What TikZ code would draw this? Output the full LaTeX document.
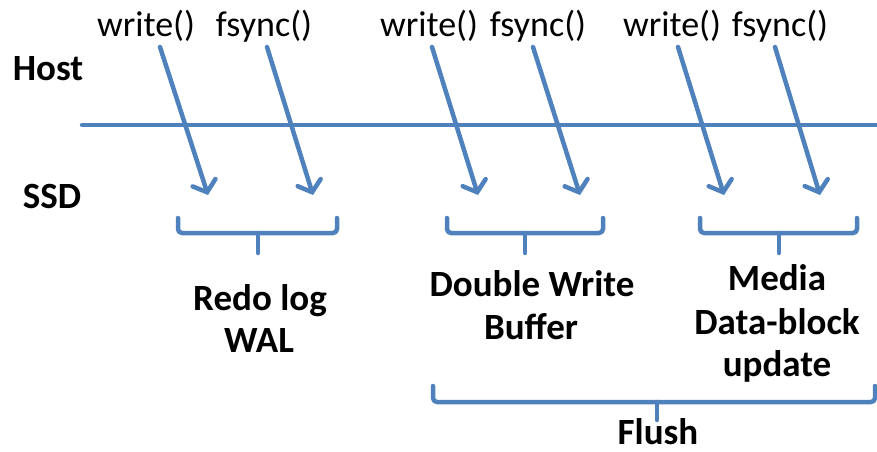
\documentclass[tikz,border=0pt]{standalone}
\usepackage{fontspec}
\setmainfont{Carlito}
\usetikzlibrary{arrows.meta}
\definecolor{accblue}{RGB}{79,129,189}
\tikzset{
  wire/.style={draw=accblue, line width=4.5pt, line cap=round, line join=round},
  callarrow/.style={wire, -{Straight Barb[length=10pt,width=24pt,line cap=round]}},
  brace/.style={wire, rounded corners=4pt},
  calltext/.style={anchor=base, inner sep=0pt, font=\fontsize{36}{42}\selectfont},
  boldtext/.style={anchor=base, inner sep=0pt, font=\fontsize{37}{44}\selectfont\bfseries},
}
\begin{document}
\begin{tikzpicture}[x=1pt,y=-1pt]
\useasboundingbox (0,0) rectangle (877,451);

% labels top
\node[calltext] (w1) at (146,36) {write()};
\node[calltext] (f1) at (264,36) {fsync()};
\node[calltext] (w2) at (429,36) {write()};
\node[calltext] (f2) at (538,36) {fsync()};
\node[calltext] (w3) at (672,36) {write()};
\node[calltext] (f3) at (780,36) {fsync()};

\node[boldtext] (host) at (48,80) {Host};
\node[boldtext] (ssd) at (52,208) {SSD};

% host/ssd boundary
\coordinate (hl) at (82,125);
\coordinate (hr) at (880,125);
\draw[wire] (hl) -- (hr);

% arrows
\coordinate (a1s) at (160,47); \coordinate (a1e) at (208,195);
\coordinate (a2s) at (267,47); \coordinate (a2e) at (313,195);
\coordinate (a3s) at (432,47); \coordinate (a3e) at (478,195);
\coordinate (a4s) at (533,47); \coordinate (a4e) at (580,195);
\coordinate (a5s) at (678,47); \coordinate (a5e) at (724,195);
\coordinate (a6s) at (775,47); \coordinate (a6e) at (820,195);
\draw[callarrow] (a1s) -- (a1e);
\draw[callarrow] (a2s) -- (a2e);
\draw[callarrow] (a3s) -- (a3e);
\draw[callarrow] (a4s) -- (a4e);
\draw[callarrow] (a5s) -- (a5e);
\draw[callarrow] (a6s) -- (a6e);

% brackets
\draw[brace] (178,218) -- (178,233) -- (337,233) -- (337,218);
\draw[wire] (258,233) -- (258,253);
\draw[brace] (447,218) -- (447,233) -- (603,233) -- (603,218);
\draw[wire] (525,233) -- (525,253);
\draw[brace] (700,218) -- (700,233) -- (857,233) -- (857,218);
\draw[wire] (779,233) -- (779,253);
\draw[brace] (433,386) -- (433,402) -- (875,402) -- (875,386);
\draw[wire] (657,402) -- (657,420);

% group labels
\node[boldtext] (redo) at (260,310) {Redo log};
\node[boldtext] (wal) at (259,352) {WAL};
\node[boldtext] (dw) at (532,296) {Double Write};
\node[boldtext] (buf) at (531,339) {Buffer};
\node[boldtext] (media) at (777,290) {Media};
\node[boldtext] (dblock) at (777,334) {Data-block};
\node[boldtext] (upd) at (777,376) {update};
\node[boldtext, text depth=0pt] (flush) at (658,444) {Flush};
\end{tikzpicture}
\end{document}
